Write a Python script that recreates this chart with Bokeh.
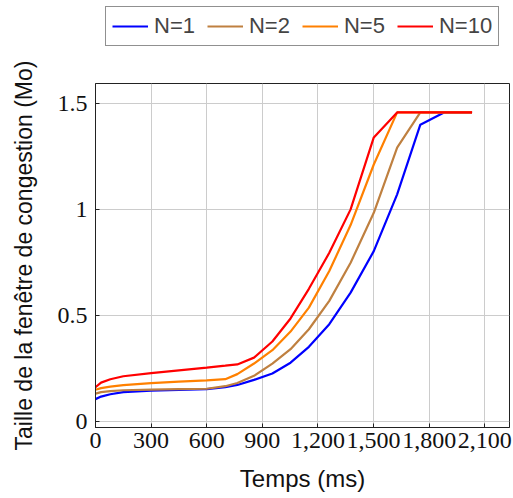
from bokeh.plotting import figure
from bokeh.layouts import column
from bokeh.models import Legend, LegendItem, FixedTicker
from bokeh.embed import file_html
from bokeh.resources import INLINE

# ---- data ----
time_ms = [0, 30, 80, 150, 300, 450, 600, 700, 765, 855, 954, 1052, 1151, 1261, 1376, 1501, 1627, 1752, 1880, 2031]
cwnd_n1 = [0.104, 0.116, 0.127, 0.137, 0.144, 0.148, 0.151, 0.160, 0.171, 0.195, 0.225, 0.276, 0.351, 0.458, 0.607, 0.803, 1.071, 1.400, 1.458, 1.458]
cwnd_n2 = [0.130, 0.137, 0.142, 0.146, 0.149, 0.151, 0.153, 0.165, 0.180, 0.214, 0.272, 0.340, 0.434, 0.568, 0.748, 0.984, 1.292, 1.458, 1.458, 1.458]
cwnd_n5 = [0.148, 0.156, 0.163, 0.170, 0.180, 0.187, 0.193, 0.198, 0.222, 0.272, 0.335, 0.423, 0.536, 0.709, 0.926, 1.212, 1.458, 1.458, 1.458, 1.458]
cwnd_n10 = [0.160, 0.182, 0.198, 0.212, 0.227, 0.240, 0.253, 0.262, 0.268, 0.300, 0.376, 0.485, 0.625, 0.795, 1.000, 1.340, 1.458, 1.458, 1.458, 1.458]

series_names = ["N=1", "N=2", "N=5", "N=10"]
series_values = [cwnd_n1, cwnd_n2, cwnd_n5, cwnd_n10]
series_colors = ["#0000ff", "#bf8040", "#ff8000", "#ff0000"]

x_ticks = [0, 300, 600, 900, 1200, 1500, 1800, 2100]
x_tick_labels = ["0", "300", "600", "900", "1,200", "1,500", "1,800", "2,100"]
y_ticks = [0, 0.5, 1, 1.5]
y_tick_labels = ["0", "0.5", "1", "1.5"]

x_label = "Temps (ms)"
y_label = "Taille de la fenêtre de congestion (Mo)"

SANS = "Liberation Sans"
SERIF = "Liberation Serif"
LEG_H = 48

# ---- main chart ----
p = figure(width=513, height=498 - LEG_H, output_backend="svg", toolbar_location=None,
           x_range=(0, 2233), y_range=(-0.030, 1.5945),
           min_border_left=95, min_border_right=4, min_border_top=83 - LEG_H, min_border_bottom=71)

for name, vals, col in zip(series_names, series_values, series_colors):
    p.line(time_ms, vals, line_color=col, line_width=2.2)

p.outline_line_color = "#222222"
p.outline_line_width = 1
p.background_fill_color = "white"
p.border_fill_color = "white"

p.xaxis.ticker = FixedTicker(ticks=x_ticks)
p.yaxis.ticker = FixedTicker(ticks=y_ticks)
p.xaxis.major_label_overrides = {t: l for t, l in zip(x_ticks, x_tick_labels)}
p.yaxis.major_label_overrides = {t: l for t, l in zip(y_ticks, y_tick_labels)}

for ax in (p.xaxis, p.yaxis):
    ax.major_tick_in = 4
    ax.major_tick_out = 0
    ax.minor_tick_line_color = None
    ax.major_tick_line_color = "#222222"
    ax.axis_line_color = "#222222"
    ax.major_label_text_font = SERIF
    ax.major_label_text_font_size = "24px"
    ax.major_label_text_color = "#111111"
    ax.axis_label_text_font = SANS
    ax.axis_label_text_font_style = "normal"
    ax.axis_label_text_color = "#111111"

p.xaxis.axis_label_text_font_size = "24px"
p.yaxis.axis_label_text_font_size = "23px"
p.xaxis.axis_label = x_label
p.yaxis.axis_label = y_label
p.xaxis.major_label_standoff = 5
p.yaxis.major_label_standoff = 8
p.xaxis.axis_label_standoff = 14
p.yaxis.axis_label_standoff = 18

p.grid.grid_line_color = "#cccccc"
p.grid.grid_line_width = 1

# ---- legend strip above the chart (frame aligned with the main chart) ----
pl = figure(width=513, height=LEG_H, output_backend="svg", toolbar_location=None,
            x_range=(-2, -1), y_range=(-2, -1),
            min_border_left=0, min_border_right=0, min_border_top=0, min_border_bottom=0)
pl.axis.visible = False
pl.grid.visible = False
pl.outline_line_color = None
pl.border_fill_color = "white"
pl.background_fill_color = "white"

leg_items = []
for name, vals, col in zip(series_names, series_values, series_colors):
    r = pl.line(time_ms, vals, line_color=col, line_width=2.2)
    leg_items.append(LegendItem(label=name, renderers=[r]))

legend = Legend(items=leg_items, orientation="horizontal", location=(10, 2),
                label_text_font=SANS, label_text_font_size="22px",
                glyph_width=36, glyph_height=20, label_standoff=6, spacing=12,
                padding=6, margin=0,
                border_line_color="#222222", border_line_width=1,
                background_fill_color="white", background_fill_alpha=1.0)
pl.add_layout(legend, "center")

layout = column(pl, p, spacing=0)
open("out.html", "w").write(file_html(layout, INLINE))
